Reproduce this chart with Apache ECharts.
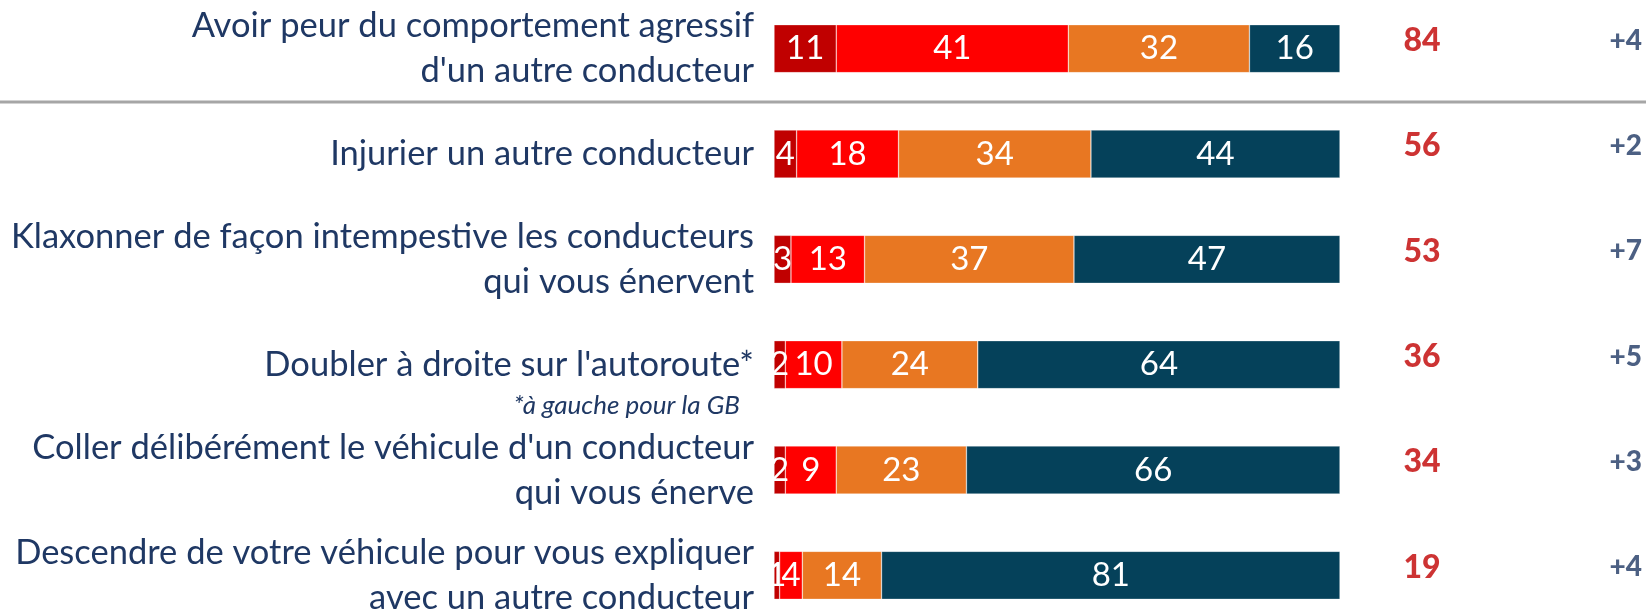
<!DOCTYPE html>
<html>
<head>
<meta charset="utf-8">
<script src="https://cdn.jsdelivr.net/npm/echarts@6/dist/echarts.min.js"></script>
<style>
  html, body { margin: 0; padding: 0; background: #fff; }
  #chart { width: 1646px; height: 613px; }
</style>
</head>
<body>
<div id="chart"></div>
<script>
// categories, top to bottom
var categories = [
  "Avoir peur du comportement agressif\nd'un autre conducteur",
  "Injurier un autre conducteur",
  "Klaxonner de façon intempestive les conducteurs\nqui vous énervent",
  "Doubler à droite sur l'autoroute*",
  "Coller délibérément le véhicule d'un conducteur\nqui vous énerve",
  "Descendre de votre véhicule pour vous expliquer\navec un autre conducteur"
];
var footnote = "*à gauche pour la GB";

var seg1 = [11, 4, 3, 2, 2, 1];     // dark red
var seg2 = [41, 18, 13, 10, 9, 4];  // red
var seg3 = [32, 34, 37, 24, 23, 14]; // orange
var seg4 = [16, 44, 47, 64, 66, 81]; // dark teal
var totals = ["84", "56", "53", "36", "34", "19"];
var changes = ["+4", "+2", "+7", "+5", "+3", "+4"];

var NAVY = "#1f3864";
var FONT = "Lato";

var chart = echarts.init(document.getElementById("chart"));

function segment(name, values, color) {
  return {
    name: name,
    type: "bar",
    stack: "total",
    barWidth: 48,
    data: values,
    itemStyle: { color: color, borderColor: "rgba(255,255,255,0.5)", borderWidth: 0.6 },
    label: {
      show: true,
      position: "inside",
      color: "#fff",
      fontFamily: FONT,
      fontSize: 33,
      formatter: "{c}"
    },
    animation: false
  };
}

function sideText(xPos, texts, color, size) {
  return {
    type: "scatter",
    symbolSize: 0,
    clip: false,
    silent: true,
    data: texts.map(function (t, i) { return [xPos, i, t]; }),
    label: {
      show: true,
      position: "inside",
      offset: [0, -8],
      color: color,
      fontFamily: FONT,
      fontWeight: 900,
      fontSize: size,
      formatter: function (p) { return p.data[2]; }
    },
    animation: false
  };
}

chart.setOption({
  backgroundColor: "#fff",
  animation: false,
  grid: { left: 774, right: 306, top: -4, height: 632, outerBoundsMode: "none" },
  xAxis: {
    type: "value",
    min: 0,
    max: 100,
    show: false
  },
  yAxis: {
    type: "category",
    inverse: true,
    data: categories,
    axisLine: { show: false },
    axisTick: { show: false },
    axisLabel: {
      margin: 20,
      color: NAVY,
      fontFamily: FONT,
      fontSize: 34.5,
      lineHeight: 45,
      align: "right",
      formatter: function (value, idx) {
        if (idx === 3) {
          return "{gap|}\n{main|" + value + "}\n{note|" + footnote + "}";
        }
        return value;
      },
      rich: {
        gap: { lineHeight: 36, fontSize: 20 },
        main: { lineHeight: 45, fontSize: 34.5, color: NAVY, fontFamily: FONT },
        note: { lineHeight: 36, fontSize: 26, fontStyle: "italic", color: NAVY, fontFamily: FONT, padding: [0, 14, 0, 0] }
      }
    }
  },
  graphic: [
    {
      type: "line",
      shape: { x1: 0, y1: 102, x2: 1646, y2: 102 },
      style: { stroke: "#a6a6a6", lineWidth: 3 }
    }
  ],
  series: [
    segment("Très souvent", seg1, "#c00000"),
    segment("Souvent", seg2, "#ff0000"),
    segment("Rarement", seg3, "#e87722"),
    segment("Jamais", seg4, "#05415a"),
    sideText(114.5, totals, "#c00000", 32),
    sideText(150.5, changes, NAVY, 28)
  ]
});
</script>
</body>
</html>
